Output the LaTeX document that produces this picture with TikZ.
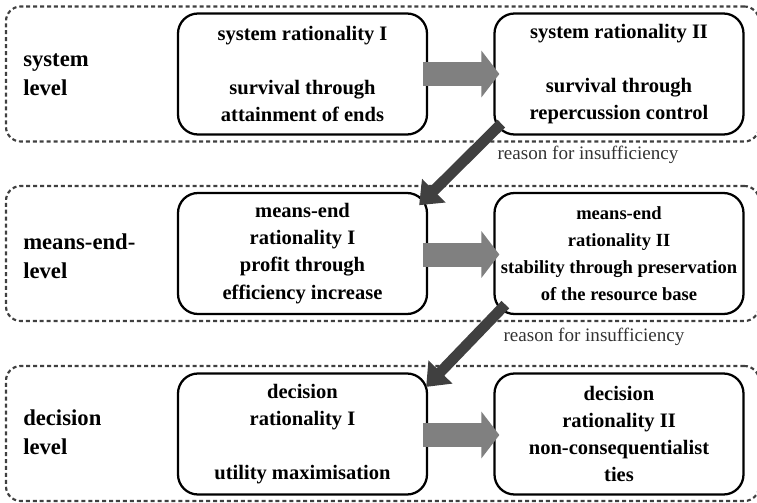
\documentclass[tikz,border=0pt]{standalone}
\usepackage{fontspec}
\setmainfont{Liberation Serif}
\usetikzlibrary{arrows.meta}
\definecolor{framegray}{HTML}{404040}
\definecolor{flowgray}{HTML}{808080}
\definecolor{stepgray}{HTML}{404040}
\definecolor{notegray}{HTML}{333333}

\begin{document}
\begin{tikzpicture}[x=0.75pt,y=-0.75pt,
  levelframe/.style={draw=framegray, line width=1.6pt, dash pattern=on 3pt off 2.2pt,
    rounded corners=11pt, minimum width=564.75pt, minimum height=101.25pt, inner sep=0pt},
  ratbox/.style={draw=black, line width=1.7pt, rounded corners=15pt,
    minimum width=186.75pt, minimum height=90.75pt, inner sep=0pt, align=center,
    font=\bfseries\fontsize{15.4}{20.3}\selectfont},
  levellabel/.style={anchor=west, align=left, inner sep=0pt,
    font=\bfseries\fontsize{17}{21.75}\selectfont},
  flow/.style={draw=flowgray, line width=18pt, -{Triangle[length=13.5pt, width=34.5pt]}},
  fallback/.style={draw=stepgray, line width=8pt, -{Triangle[length=15.5pt, width=24pt]}},
  reason/.style={text=notegray, inner sep=0pt, font=\fontsize{14.3}{17}\selectfont}
]
\useasboundingbox (0,0) rectangle (757,503);

% level frames
\node[levelframe] (L1) at (382.5,74) {};
\node[levelframe] (L2) at (382.5,253.5) {};
\node[levelframe] (L3) at (382.5,433.5) {};

% level names
\node[levellabel] (t1) at (23,75) {system\\ level};
\node[levellabel] (t2) at (23,256) {means-end-\\ level};
\node[levellabel] (t3) at (23,432) {decision\\ level};

% rationality boxes
\node[ratbox] (s1) at (302.5,74) {system rationality I\\ \mbox{}\\ survival through\\ attainment of ends};
\node[ratbox] (s2) at (619,74) {system rationality II\\ \mbox{}\\ survival through\\ repercussion control};
\node[ratbox] (m1) at (302.5,253.5) {means-end\\ rationality I\\ profit through\\ efficiency increase};
\node[ratbox, font=\bfseries\fontsize{13.9}{20.3}\selectfont] (m2) at (619,253.5)
  {means-end\\ rationality II\\ stability through preservation\\ of the resource base};
\node[ratbox] (d1) at (302.5,434) {decision\\ rationality I\\ \mbox{}\\ utility maximisation};
\node[ratbox] (d2) at (619,434) {decision\\ rationality II\\ non-consequentialist\\ ties};

% development within a level
\draw[flow] ([xshift=-3.75pt]s1.east) -- ([xshift=4.5pt]s2.west);
\draw[flow] ([xshift=-3.75pt,yshift=-0.75pt]m1.east) -- ([xshift=4.5pt,yshift=-0.75pt]m2.west);
\draw[flow] ([xshift=-3.75pt,yshift=-0.75pt]d1.east) -- ([xshift=4.5pt,yshift=-0.75pt]d2.west);

% fallback to the level below
\draw[fallback] ([xshift=6pt,yshift=9pt]s2.south west) -- ([xshift=-6.75pt,yshift=-10pt]m1.north east);
\draw[fallback] ([xshift=9pt,yshift=7.9pt]m2.south west) -- ([xshift=-1.5pt,yshift=-10.9pt]d1.north east);

\node[reason] (r1) at (588,155) {reason for insufficiency};
\node[reason] (r2) at (594,337) {reason for insufficiency};
\end{tikzpicture}
\end{document}
